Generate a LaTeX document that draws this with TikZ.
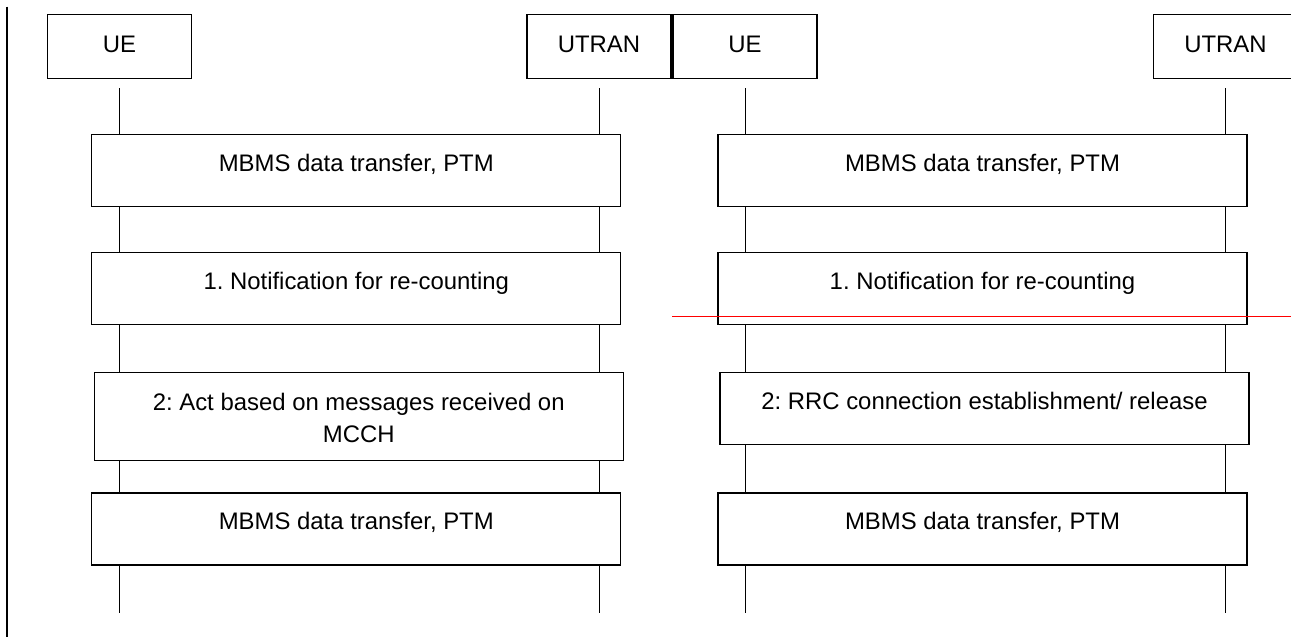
\documentclass[tikz,border=0pt]{standalone}
\usepackage{fontspec}
\setmainfont{Liberation Sans}
\frenchspacing
\tikzset{
  entity/.style={draw,line width=1.3pt,minimum width=144pt,minimum height=64pt,inner sep=0pt,
    text height=17pt,text depth=5pt},
  msgbox/.style={draw,fill=white,line width=1.3pt,minimum width=529pt,minimum height=72pt,
    inner sep=0pt,text height=18pt,text depth=16pt,align=center},
  lifeline/.style={line width=1pt}
}
\begin{document}
\begin{tikzpicture}[x=1pt,y=-1pt,font=\fontsize{23.9}{31.6}\selectfont]
  \useasboundingbox (0,0) rectangle (1291,637);
  \clip (0,0) rectangle (1291,637);
  \draw[line width=2pt] (6.7,6.7) -- (6.7,637);
  \node[entity] (ue1) at (119.5,46.5) {UE};
  \node[entity] (utran1) at (599,46.5) {UTRAN};
  \node[entity] (ue2) at (745,46.5) {UE};
  \node[entity] (utran2) at (1225.5,46.5) {UTRAN};
  \coordinate (bottom) at (0,613.3);
  \foreach \n in {ue1,utran1,ue2,utran2}
    \draw[lifeline] ([yshift=-9pt]\n.south) -- (\n |- bottom);
  \node[msgbox] (left1) at (356.3,170.7) {MBMS data transfer, PTM};
  \node[msgbox] (left2) at (356.3,288.4) {1. Notification for re-counting};
  \node[msgbox,minimum height=88pt,text height=69.6pt,text depth=18.4pt] (left3) at (358.7,416.7)
    {2: Act based on messages received on\\MCCH};
  \node[msgbox] (left4) at (356.3,528.9) {MBMS data transfer, PTM};
  \node[msgbox] (right1) at (982.5,170.7) {MBMS data transfer, PTM};
  \node[msgbox] (right2) at (982.5,288.4) {1. Notification for re-counting};
  \node[msgbox] (right3) at (984.5,408.7) {2: RRC connection establishment/ release};
  \node[msgbox] (right4) at (982.5,528.9) {MBMS data transfer, PTM};
  \draw[red,line width=1.3pt] (ue2.west |- right2.south) ++(0,-8.3) -- ++(619,0);
\end{tikzpicture}
\end{document}
